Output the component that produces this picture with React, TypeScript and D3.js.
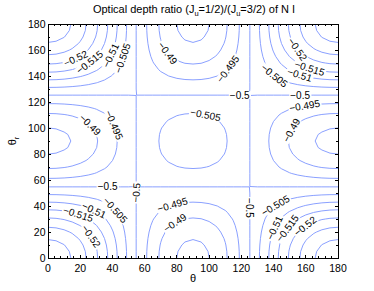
import React, { useEffect, useRef } from 'react';
import * as d3 from 'd3';

// sample angles (deg), shared by theta and theta_r
const thetaDeg = [
  0, 5, 10, 15, 20, 25, 30, 35, 40, 45, 50, 55, 60, 65, 70, 75, 80, 85, 90,
  95, 100, 105, 110, 115, 120, 125, 130, 135, 140, 145, 150, 155, 160, 165, 170, 175, 180,
];
// angular weight (zero near 54.7 / 125.3)
const angularWeight = [
  1, 0.989, 0.955, 0.9, 0.825, 0.732, 0.625, 0.507, 0.38, 0.25, 0.12, -0.007, -0.125,
  -0.232, -0.325, -0.4, -0.455, -0.489, -0.5, -0.489, -0.455, -0.4, -0.325, -0.232,
  -0.125, -0.007, 0.12, 0.25, 0.38, 0.507, 0.625, 0.732, 0.825, 0.9, 0.955, 0.989, 1,
];
const ratioCenter = -0.5;
const ratioSpread = 0.033;

const contourLevels = [-0.53, -0.525, -0.52, -0.515, -0.51, -0.505, -0.5, -0.495, -0.49, -0.485];
const majorTicks = [0, 20, 40, 60, 80, 100, 120, 140, 160, 180];
const xMinorTicks = d3.range(0, 181, 4).filter(v => v % 20 !== 0);
const yMinorTicks = [10, 30, 50, 70, 90, 110, 130, 150, 170];

// where the clabels sit: [level, theta, theta_r]
const labelAnchors: [number, number, number][] = [
  [-0.52, 17, 154], [-0.515, 25, 152], [-0.51, 38.5, 156], [-0.505, 45.7, 154],
  [-0.49, 74.6, 158], [-0.49, 23, 98.5], [-0.495, 38.5, 101], [-0.495, 111, 146],
  [-0.52, 156, 161.5], [-0.515, 162.6, 147], [-0.51, 156.5, 142], [-0.505, 141, 141],
  [-0.5, 119, 124], [-0.5, 156.5, 124], [-0.495, 159.5, 116], [-0.49, 153, 97],
  [-0.505, 97.5, 108.5], [-0.5, 37, 54], [-0.5, 57, 50], [-0.505, 40, 35],
  [-0.51, 28, 35], [-0.515, 18, 31], [-0.52, 26, 16], [-0.495, 77.8, 38.5],
  [-0.49, 80, 25], [-0.5, 126.4, 38.5], [-0.505, 142, 38.5], [-0.51, 141, 23],
  [-0.515, 150, 21.5], [-0.52, 160.6, 23],
];

const FONT = '"Liberation Sans", Arial, Helvetica, sans-serif';
const LINE = '#7d95ff';

export default function App() {
  const ref = useRef<SVGSVGElement>(null);

  useEffect(() => {
    const svg = d3.select(ref.current);
    svg.selectAll('*').remove();

    const left = 48, top = 24, width = 290, height = 234;
    const x = d3.scaleLinear().domain([0, 180]).range([left, left + width]);
    const y = d3.scaleLinear().domain([0, 180]).range([top + height, top]);

    svg.append('rect').attr('width', 374).attr('height', 291).attr('fill', 'white');

    // grid of ratios
    const n = thetaDeg.length;
    const values: number[] = new Array(n * n);
    for (let j = 0; j < n; j++) {
      for (let i = 0; i < n; i++) {
        values[i + j * n] = ratioCenter - ratioSpread * angularWeight[i] * angularWeight[j];
      }
    }
    const step = thetaDeg[1] - thetaDeg[0];
    const gx = (c: number) => x(thetaDeg[0] + (c - 0.5) * step);
    const gy = (c: number) => y(thetaDeg[0] + (c - 0.5) * step);

    const contours = d3.contours().size([n, n]).thresholds(contourLevels)(values);

    svg.append('clipPath').attr('id', 'plot-clip')
      .append('rect').attr('x', left).attr('y', top).attr('width', width).attr('height', height);

    const rings: Record<string, [number, number][][]> = {};
    contours.forEach(c => {
      const list: [number, number][][] = [];
      c.coordinates.forEach(poly => poly.forEach(ring => {
        list.push(ring.map(p => [gx(p[0]), gy(p[1])] as [number, number]));
      }));
      rings[c.value.toFixed(3)] = list;
    });

    const lines = svg.append('g').attr('clip-path', 'url(#plot-clip)');
    Object.values(rings).forEach(list => {
      const d = list.map(r => 'M' + r.map(p => p[0].toFixed(2) + ',' + p[1].toFixed(2)).join('L') + 'Z').join('');
      lines.append('path').attr('d', d).attr('fill', 'none')
        .attr('stroke', LINE).attr('stroke-width', 0.9);
    });

    // contour labels
    const labels = svg.append('g').attr('clip-path', 'url(#plot-clip)');
    labelAnchors.forEach(([level, th, thr]) => {
      const list = rings[level.toFixed(3)];
      if (!list) return;
      const tx = x(th), ty = y(thr);
      let best = { d: Infinity, px: tx, py: ty, ang: 0 };
      list.forEach(r => {
        for (let k = 0; k < r.length - 1; k++) {
          const [ax, ay] = r[k], [bx, by] = r[k + 1];
          const vx = bx - ax, vy = by - ay;
          const len2 = vx * vx + vy * vy;
          if (len2 === 0) continue;
          let t = ((tx - ax) * vx + (ty - ay) * vy) / len2;
          t = Math.max(0, Math.min(1, t));
          const px = ax + t * vx, py = ay + t * vy;
          const dd = (px - tx) ** 2 + (py - ty) ** 2;
          if (dd < best.d) best = { d: dd, px, py, ang: Math.atan2(vy, vx) * 180 / Math.PI };
        }
      });
      let ang = best.ang;
      if (ang > 90) ang -= 180;
      if (ang < -90) ang += 180;
      const g = labels.append('g')
        .attr('transform', `translate(${best.px},${best.py}) rotate(${ang})`);
      const bg = g.append('rect').attr('fill', 'white');
      const t = g.append('text')
        .attr('text-anchor', 'middle').attr('dy', '0.35em')
        .attr('font-family', FONT).attr('font-size', 10).attr('fill', 'black')
        .text(String(level).replace('-', '\u2212'));
      const bb = (t.node() as SVGTextElement).getBBox();
      bg.attr('x', bb.x - 1).attr('y', -4).attr('width', bb.width + 2).attr('height', 8);
    });

    // axes box and ticks
    const axes = svg.append('g').attr('stroke', 'black').attr('shape-rendering', 'crispEdges');
    axes.append('rect').attr('x', left).attr('y', top).attr('width', width).attr('height', height)
      .attr('fill', 'none').attr('stroke-width', 1);
    const xTick = (v: number, len: number) => {
      axes.append('line').attr('x1', x(v)).attr('x2', x(v)).attr('y1', top + height).attr('y2', top + height - len);
      axes.append('line').attr('x1', x(v)).attr('x2', x(v)).attr('y1', top).attr('y2', top + len);
    };
    const yTick = (v: number, len: number) => {
      axes.append('line').attr('y1', y(v)).attr('y2', y(v)).attr('x1', left).attr('x2', left + len);
      axes.append('line').attr('y1', y(v)).attr('y2', y(v)).attr('x1', left + width).attr('x2', left + width - len);
    };
    majorTicks.forEach(v => { xTick(v, 3); yTick(v, 3); });
    xMinorTicks.forEach(v => xTick(v, 2));
    yMinorTicks.forEach(v => yTick(v, 2));

    const txt = svg.append('g').attr('font-family', FONT).attr('font-size', 10.5).attr('fill', 'black');
    majorTicks.forEach(v => {
      txt.append('text').attr('x', x(v)).attr('y', 272).attr('text-anchor', 'middle').text(v);
      txt.append('text').attr('x', left - 2.5).attr('y', y(v)).attr('dy', '0.35em')
        .attr('text-anchor', 'end').text(v);
    });

    txt.append('text').attr('x', x(90)).attr('y', 282).attr('text-anchor', 'middle')
      .attr('font-size', 11).text('θ');

    const yl = txt.append('text').attr('transform', 'translate(16,141) rotate(-90)')
      .attr('text-anchor', 'middle').attr('font-size', 11);
    yl.append('tspan').text('θ');
    yl.append('tspan').attr('dy', 3).attr('font-size', 7.5).text('r');

    const title = txt.append('text').attr('x', 194).attr('y', 12.5)
      .attr('text-anchor', 'middle').attr('font-size', 11);
    title.append('tspan').text('Optical depth ratio (J');
    title.append('tspan').attr('dy', 3.5).attr('font-size', 7.5).text('u');
    title.append('tspan').attr('dy', -3.5).text('=1/2)/(J');
    title.append('tspan').attr('dy', 3.5).attr('font-size', 7.5).text('u');
    title.append('tspan').attr('dy', -3.5).text('=3/2) of N I');
  }, []);

  return (
    <svg ref={ref} width={374} height={291}
      style={{ position: 'absolute', left: 0, top: 0, display: 'block' }} />
  );
}
